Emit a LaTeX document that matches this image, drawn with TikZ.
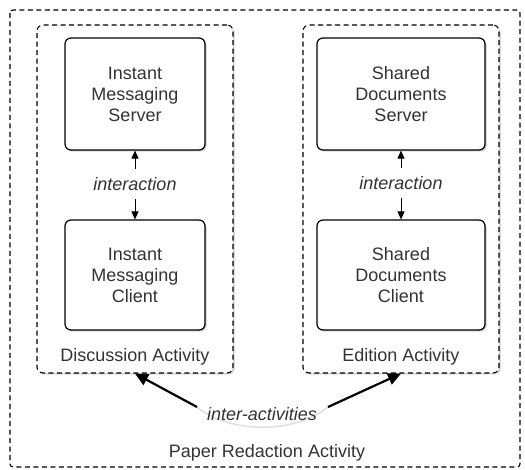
\documentclass[tikz,border=0pt]{standalone}
\usepackage{fontspec}
\setmainfont{Liberation Sans}
\usetikzlibrary{arrows.meta,shadows}

\tikzset{
  component/.style={draw, line width=1.2pt, rounded corners=6pt, fill=white,
    align=center, font=\fontsize{18}{21}\selectfont, text=black!80,
    drop shadow={shadow xshift=1.5pt, shadow yshift=-1.5pt, opacity=0.45}},
  activity/.style={draw, line width=1.1pt, dash pattern=on 5pt off 3.5pt,
    rounded corners=6pt, fill=white,
    drop shadow={shadow xshift=1.5pt, shadow yshift=-1.5pt, opacity=0.4}},
  caption/.style={font=\fontsize{18}{21}\selectfont, text=black!80},
  relation/.style={font=\fontsize{18}{21}\selectfont\itshape, text=black!80,
    inner xsep=2pt, inner ysep=8pt},
  smallarrow/.style={line width=1pt, -{Triangle[length=8pt,width=7pt]}},
  bigarrow/.style={line width=2.2pt, -{Triangle[length=13pt,width=12pt]}}
}

\begin{document}
\begin{tikzpicture}[x=1pt,y=-1pt]
    \useasboundingbox (0,0) rectangle (525,470);

    % Outer activity
    \draw[line width=1.1pt, dash pattern=on 5pt off 3.5pt, rounded corners=3pt]
        (10,10) rectangle (520,467);
    \node[caption] (paper) at (267,453) {Paper Redaction Activity};

    % Activities
    \node[activity, minimum width=196pt, minimum height=348pt] (disc) at (135,199) {};
    \node[activity, minimum width=196pt, minimum height=348pt] (edit) at (401,199) {};
    \node[caption] (disclabel) at (135,357) {Discussion Activity};
    \node[caption] (editlabel) at (401,357) {Edition Activity};

    % Components
    \node[component, minimum width=140pt, minimum height=112pt] (imserver) at (135,94)
        {Instant\\Messaging\\Server};
    \node[component, minimum width=140pt, minimum height=110pt] (imclient) at (135,275)
        {Instant\\Messaging\\Client};
    \node[component, minimum width=168pt, minimum height=112pt] (sdserver) at (401,94)
        {Shared\\Documents\\Server};
    \node[component, minimum width=168pt, minimum height=110pt] (sdclient) at (401,275)
        {Shared\\Documents\\Client};

    % Interactions
    \node[relation] (imint) at (135,184) {interaction};
    \node[relation] (sdint) at (401,183) {interaction};
    \draw[smallarrow] (imint) -- (imserver);
    \draw[smallarrow] (imint) -- (imclient);
    \draw[smallarrow] (sdint) -- (sdserver);
    \draw[smallarrow] (sdint) -- (sdclient);

    % Inter-activities
    \coordinate (ialeft) at (197,407);
    \coordinate (iaright) at (328,407);
    \draw[black!12, line width=1.6pt] (ialeft) .. controls +(33,27) and +(-33,27) .. (iaright);
    \node[relation, inner ysep=2pt] (inter) at (262,414) {inter-activities};
    \draw[bigarrow] (ialeft) -- (disc.south);
    \draw[bigarrow] (iaright) -- (edit.south);
\end{tikzpicture}
\end{document}
